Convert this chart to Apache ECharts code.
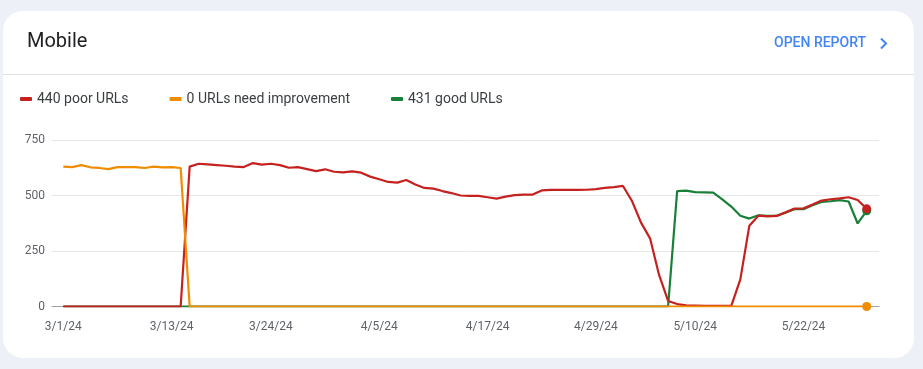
<!DOCTYPE html>
<html>
<head>
<meta charset="utf-8">
<script src="https://cdn.jsdelivr.net/npm/echarts@6/dist/echarts.min.js"></script>
<style>
html,body{margin:0;padding:0;background:#edf0f7;}
#chart{width:923px;height:369px;}
</style>
</head>
<body>
<div id="chart"></div>
<script>
const categories = [
"3/1/24","3/2/24","3/3/24","3/4/24","3/5/24","3/6/24","3/7/24","3/8/24","3/9/24","3/10/24",
"3/11/24","3/12/24","3/13/24","3/14/24","3/15/24","3/16/24","3/17/24","3/18/24","3/19/24","3/20/24",
"3/21/24","3/22/24","3/23/24","3/24/24","3/25/24","3/26/24","3/27/24","3/28/24","3/29/24","3/30/24","3/31/24",
"4/1/24","4/2/24","4/3/24","4/4/24","4/5/24","4/6/24","4/7/24","4/8/24","4/9/24","4/10/24",
"4/11/24","4/12/24","4/13/24","4/14/24","4/15/24","4/16/24","4/17/24","4/18/24","4/19/24","4/20/24",
"4/21/24","4/22/24","4/23/24","4/24/24","4/25/24","4/26/24","4/27/24","4/28/24","4/29/24","4/30/24",
"5/1/24","5/2/24","5/3/24","5/4/24","5/5/24","5/6/24","5/7/24","5/8/24","5/9/24","5/10/24",
"5/11/24","5/12/24","5/13/24","5/14/24","5/15/24","5/16/24","5/17/24","5/18/24","5/19/24","5/20/24",
"5/21/24","5/22/24","5/23/24","5/24/24","5/25/24","5/26/24","5/27/24","5/28/24","5/29/24"
];
const tickLabels = ["3/1/24","3/13/24","3/24/24","4/5/24","4/17/24","4/29/24","5/10/24","5/22/24"];
const yTicks = [0, 250, 500, 750];

const poorValues = [
0,0,0,0,0,0,0,0,0,0,0,0,0,0,
630,643,640,637,634,630,628,646,639,643,637,625,628,619,610,618,
607,604,609,603,585,573,561,558,570,550,534,531,520,511,500,498,
498,492,486,495,502,504,504,523,525,525,525,525,526,529,534,538,
543,475,378,307,142,25,11,5,4,3,3,3,3,122,364,409,406,408,424,441,
442,459,477,483,487,492,480,440
];
const needsImprovementValues = [
630,628,637,627,624,619,628,628,628,624,630,627,628,624,
0,0,0,0,0,0,0,0,0,0,0,0,0,0,0,0,0,0,0,0,0,0,0,0,0,0,
0,0,0,0,0,0,0,0,0,0,0,0,0,0,0,0,0,0,0,0,0,0,0,0,0,0,
0,0,0,0,0,0,0,0,0,0,0,0,0,0,0,0,0,0,0,0,0,0,0,0
];
const goodValues = [
0,0,0,0,0,0,0,0,0,0,0,0,0,0,0,0,0,0,0,0,0,0,0,0,0,0,0,0,0,0,
0,0,0,0,0,0,0,0,0,0,0,0,0,0,0,0,0,0,0,0,0,0,0,0,0,0,0,0,0,0,
0,0,0,0,0,0,0,0,
520,522,515,514,513,483,450,409,396,411,408,408,422,438,438,456,
471,474,479,473,374,431
];
const seriesNames = ["440 poor URLs", "0 URLs need improvement", "431 good URLs"];
const seriesColors = ["#c5221f", "#f08c00", "#188038"];

function withEndDot(vals) {
  return vals.map((v, i) => i === vals.length - 1
    ? { value: v, symbol: 'circle', symbolSize: 9 }
    : v);
}

const chart = echarts.init(document.getElementById('chart'), null, { renderer: 'canvas' });
const font = 'Roboto, "Noto Sans", sans-serif';

function lineSeries(name, vals, color, z) {
  return {
    name: name, type: 'line', xAxisIndex: 1, yAxisIndex: 1,
    data: withEndDot(vals), symbol: 'none', showAllSymbol: true,
    lineStyle: { color: color, width: 2.2 }, itemStyle: { color: color },
    z: z, animation: false, silent: true
  };
}

chart.setOption({
  backgroundColor: '#edf0f7',
  animation: false,
  textStyle: { fontFamily: font },
  graphic: [
    { type: 'rect', shape: { x: 3, y: 11, width: 911, height: 347, r: 20 }, style: { fill: '#ffffff' }, z: -10 },
    { type: 'line', shape: { x1: 3, y1: 74.5, x2: 914, y2: 74.5 }, style: { stroke: '#e0e0e0', lineWidth: 1 }, z: -9 },
    { type: 'text', x: 27, y: 41.5, style: { text: 'Mobile', fill: '#202124', font: '400 20px ' + font, verticalAlign: 'middle' } },
    { type: 'text', x: 774, y: 43.5, style: { text: 'OPEN REPORT', fill: '#4285f4', font: '500 14px ' + font, verticalAlign: 'middle' } },
    { type: 'polyline', shape: { points: [[881, 38.5], [886, 43.5], [881, 48.5]] }, style: { stroke: '#4285f4', lineWidth: 2, fill: null } }
  ],
  legend: {
    left: 20, top: 92, padding: 0, icon: 'roundRect', itemWidth: 12, itemHeight: 4, itemGap: 41,
    data: seriesNames,
    textStyle: { color: '#3c4043', fontSize: 14, fontFamily: font },
    selectedMode: false
  },
  grid: [
    { left: 52, top: 140, width: 827, height: 166.5 },
    { left: 63.3, top: 140, width: 803.4, height: 166.5 }
  ],
  xAxis: [
    { type: 'value', gridIndex: 0, min: 0, max: 1,
      axisLine: { show: true, lineStyle: { color: '#9aa0a6', width: 1 } },
      axisTick: { show: false }, axisLabel: { show: false }, splitLine: { show: false } },
    { type: 'category', gridIndex: 1, data: categories, boundaryGap: false,
      axisLine: { show: false }, axisTick: { show: false },
      axisLabel: { interval: (idx, val) => tickLabels.includes(val), color: '#5f6368', fontSize: 12, margin: 14, fontFamily: font },
      splitLine: { show: false } }
  ],
  yAxis: [
    { type: 'value', gridIndex: 0, min: yTicks[0], max: yTicks[yTicks.length - 1], interval: 250,
      axisLine: { show: false }, axisTick: { show: false },
      axisLabel: { color: '#5f6368', fontSize: 12, margin: 7, fontFamily: font },
      splitLine: { lineStyle: { color: '#e6e7ea', width: 1 } } },
    { type: 'value', gridIndex: 1, min: 0, max: 750, show: false, splitLine: { show: false } }
  ],
  series: [
    lineSeries(seriesNames[0], poorValues, seriesColors[0], 3),
    lineSeries(seriesNames[1], needsImprovementValues, seriesColors[1], 4),
    lineSeries(seriesNames[2], goodValues, seriesColors[2], 2)
  ]
});
</script>
</body>
</html>
